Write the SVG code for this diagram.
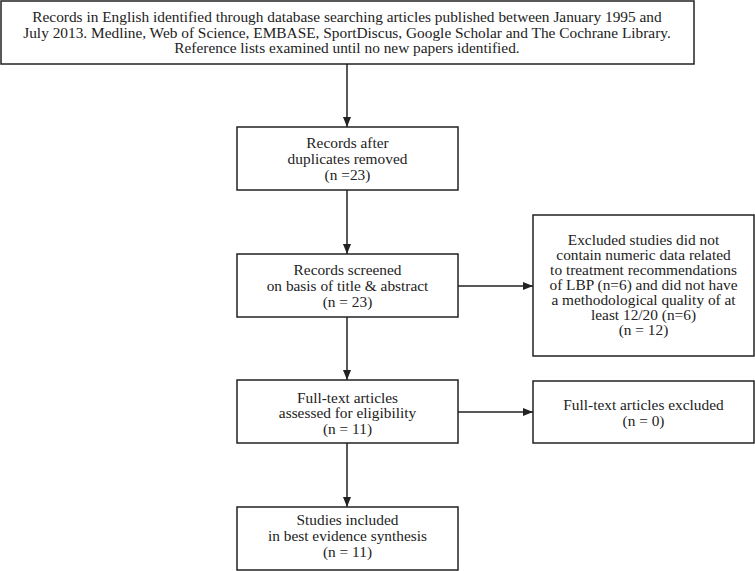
<svg xmlns="http://www.w3.org/2000/svg" width="755" height="571" viewBox="0 0 755 571">
<style>
.box{fill:#fff;stroke:#222;stroke-width:1.5}
.t{font-family:"Liberation Serif","Times New Roman",serif;font-size:13.6px;fill:#222;text-anchor:middle}
.c{stroke:#222;stroke-width:1.5;fill:none;marker-end:url(#ah)}
</style>
<defs>
<marker id="ah" markerWidth="10" markerHeight="8" refX="10" refY="4" orient="auto" markerUnits="userSpaceOnUse">
<path d="M0,0 L10,4 L0,8 Z" fill="#222"/>
</marker>
</defs>
<rect width="755" height="571" fill="#fff"/>
<g id="connectors">
<line class="c" x1="347" y1="64" x2="347" y2="127"/>
<line class="c" x1="347" y1="190" x2="347" y2="254"/>
<line class="c" x1="458" y1="286" x2="533" y2="286"/>
<line class="c" x1="347" y1="317" x2="347" y2="380"/>
<line class="c" x1="458" y1="412" x2="533" y2="412"/>
<line class="c" x1="347" y1="443" x2="347" y2="507"/>
</g>
<g id="n1">
<rect class="box" x="1" y="1" width="693" height="63"/>
<g transform="translate(347 0) scale(1.13 1)">
<text class="t" x="0" y="22.5">Records in English identified through database searching articles published between January 1995 and</text>
<text class="t" x="0" y="38">July 2013. Medline, Web of Science, EMBASE, SportDiscus, Google Scholar and The Cochrane Library.</text>
<text class="t" x="0" y="53.5">Reference lists examined until no new papers identified.</text>
</g>
</g>
<g id="n2">
<rect class="box" x="237" y="127" width="221" height="63"/>
<g transform="translate(347.5 0) scale(1.13 1)">
<text class="t" x="0" y="148">Records after</text>
<text class="t" x="0" y="164">duplicates removed</text>
<text class="t" x="0" y="180">(n =23)</text>
</g>
</g>
<g id="n3">
<rect class="box" x="237" y="254" width="221" height="63"/>
<g transform="translate(347.5 0) scale(1.13 1)">
<text class="t" x="0" y="275">Records screened</text>
<text class="t" x="0" y="291">on basis of title &amp; abstract</text>
<text class="t" x="0" y="307">(n = 23)</text>
</g>
</g>
<g id="n4">
<rect class="box" x="533" y="215" width="221" height="141"/>
<g transform="translate(643.5 0) scale(1.13 1)">
<text class="t" x="0" y="245">Excluded studies did not</text>
<text class="t" x="0" y="260">contain numeric data related</text>
<text class="t" x="0" y="275">to treatment recommendations</text>
<text class="t" x="0" y="290">of LBP (n=6) and did not have</text>
<text class="t" x="0" y="305">a methodological quality of at</text>
<text class="t" x="0" y="320">least 12/20 (n=6)</text>
<text class="t" x="0" y="335">(n = 12)</text>
</g>
</g>
<g id="n5">
<rect class="box" x="237" y="380" width="221" height="63"/>
<g transform="translate(347.5 0) scale(1.13 1)">
<text class="t" x="0" y="403">Full-text articles</text>
<text class="t" x="0" y="418.5">assessed for eligibility</text>
<text class="t" x="0" y="434">(n = 11)</text>
</g>
</g>
<g id="n6">
<rect class="box" x="533" y="381" width="221" height="62"/>
<g transform="translate(643.5 0) scale(1.13 1)">
<text class="t" x="0" y="410">Full-text articles excluded</text>
<text class="t" x="0" y="426">(n = 0)</text>
</g>
</g>
<g id="n7">
<rect class="box" x="237" y="507" width="221" height="63"/>
<g transform="translate(347.5 0) scale(1.13 1)">
<text class="t" x="0" y="525">Studies included</text>
<text class="t" x="0" y="541">in best evidence synthesis</text>
<text class="t" x="0" y="557">(n = 11)</text>
</g>
</g>
</svg>
